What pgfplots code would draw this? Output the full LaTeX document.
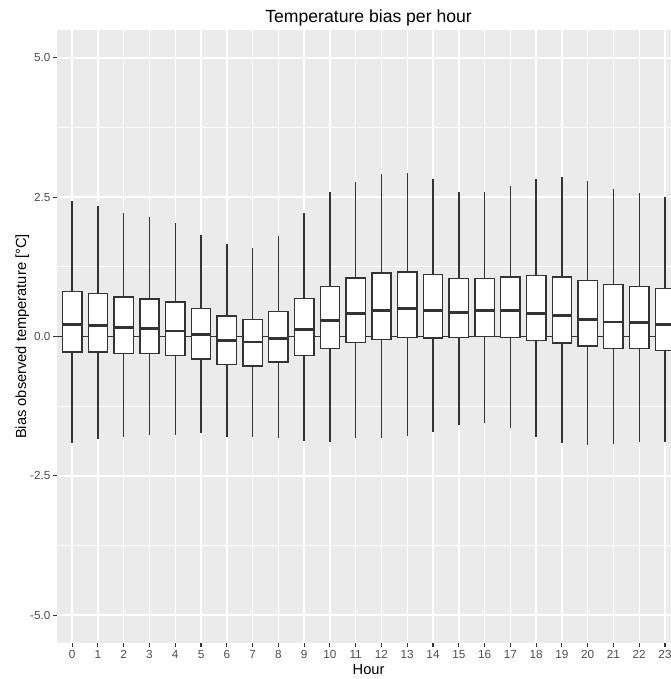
\documentclass[border=0pt]{standalone}
\usepackage{fontspec}
\setmainfont{Liberation Sans}
\usepackage{pgfplots}
\usepgfplotslibrary{statistics}
\pgfplotsset{compat=1.18}

\definecolor{panelbg}{HTML}{EBEBEB}
\definecolor{inkdark}{HTML}{333333}
\definecolor{ticktext}{HTML}{4D4D4D}

% one vertical box per hour: position, lower whisker, Q1, median, Q3, upper whisker
\newcommand{\hourbox}[6]{%
  \addplot[
    boxplot prepared={
      draw direction=y,
      draw position=#1,
      lower whisker=#2, lower quartile=#3, median=#4,
      upper quartile=#5, upper whisker=#6,
      box extend=0.75, whisker extend=0,
      every median/.style={line width=2.13pt}
    },
    draw=inkdark, line width=1.07pt, fill=white, solid, mark=none
  ] coordinates {};
}

\begin{document}
\begin{tikzpicture}
\begin{axis}[
  scale only axis,
  width=460.7pt, height=459.75pt,
  xmin=-0.6, xmax=23.23,
  ymin=-5.5, ymax=5.5,
  axis background/.style={fill=panelbg},
  axis x line*=bottom, axis y line*=left,
  axis line style={draw=none},
  tick align=outside,
  major tick length=2.75pt, minor tick length=0pt,
  tick style={draw=inkdark, line width=0.8pt},
  xtick={0,...,23},
  ytick={-5,-2.5,0,2.5,5},
  yticklabels={-5.0,-2.5,0.0,2.5,5.0},
  minor ytick={-3.75,-1.25,1.25,3.75},
  grid=both,
  major grid style={white, line width=1.07pt},
  minor grid style={white, line width=0.53pt},
  /pgf/number format/assume math mode=true,
  tick label style={font=\fontsize{8.8}{10}\selectfont, text=ticktext, inner sep=0pt},
  xticklabel style={anchor=north, yshift=-2.25pt},
  yticklabel style={anchor=east, xshift=-1.75pt},
  title={Temperature bias per hour},
  title style={font=\fontsize{13.2}{15}\selectfont, at={(axis description cs:0.5078,1.01196)}, anchor=base, yshift=-6pt, inner sep=0pt},
  xlabel={Hour},
  xlabel style={font=\fontsize{11}{13}\selectfont, at={(axis description cs:0.5078,-0.05057)}, anchor=base, inner sep=0pt},
  ylabel={Bias observed temperature [°C]},
  ylabel style={font=\fontsize{11}{13}\selectfont, at={(axis description cs:-0.0499,0.5)}, anchor=base, inner sep=0pt},
  clip=true,
]
% reference line at zero bias, underneath the boxes
\addplot[inkdark, line width=1.07pt, forget plot] coordinates {(-0.6,0) (23.6,0)};

\hourbox{0}{-1.92}{-0.28}{0.21}{0.81}{2.44}
\hourbox{1}{-1.84}{-0.28}{0.19}{0.77}{2.34}
\hourbox{2}{-1.81}{-0.30}{0.16}{0.71}{2.22}
\hourbox{3}{-1.77}{-0.31}{0.14}{0.67}{2.14}
\hourbox{4}{-1.77}{-0.34}{0.10}{0.62}{2.04}
\hourbox{5}{-1.74}{-0.40}{0.04}{0.50}{1.83}
\hourbox{6}{-1.80}{-0.50}{-0.07}{0.37}{1.66}
\hourbox{7}{-1.80}{-0.53}{-0.10}{0.31}{1.59}
\hourbox{8}{-1.83}{-0.46}{-0.03}{0.45}{1.81}
\hourbox{9}{-1.87}{-0.34}{0.12}{0.68}{2.21}
\hourbox{10}{-1.90}{-0.22}{0.29}{0.90}{2.59}
\hourbox{11}{-1.83}{-0.11}{0.41}{1.05}{2.77}
\hourbox{12}{-1.83}{-0.05}{0.47}{1.14}{2.92}
\hourbox{13}{-1.78}{-0.02}{0.50}{1.16}{2.93}
\hourbox{14}{-1.72}{-0.03}{0.47}{1.11}{2.82}
\hourbox{15}{-1.59}{-0.02}{0.43}{1.04}{2.60}
\hourbox{16}{-1.56}{0.00}{0.46}{1.04}{2.60}
\hourbox{17}{-1.65}{-0.02}{0.46}{1.07}{2.70}
\hourbox{18}{-1.80}{-0.07}{0.42}{1.09}{2.83}
\hourbox{19}{-1.92}{-0.12}{0.38}{1.07}{2.86}
\hourbox{20}{-1.95}{-0.17}{0.31}{1.01}{2.79}
\hourbox{21}{-1.93}{-0.22}{0.26}{0.93}{2.65}
\hourbox{22}{-1.89}{-0.22}{0.25}{0.90}{2.57}
\hourbox{23}{-1.90}{-0.25}{0.22}{0.86}{2.50}
\end{axis}
\pgfresetboundingbox
\path[use as bounding box]
  ([shift={(-42.5pt,-27pt)}]current axis.south west)
  rectangle ([shift={(0pt,22.5pt)}]current axis.north east);
\end{tikzpicture}
\end{document}
